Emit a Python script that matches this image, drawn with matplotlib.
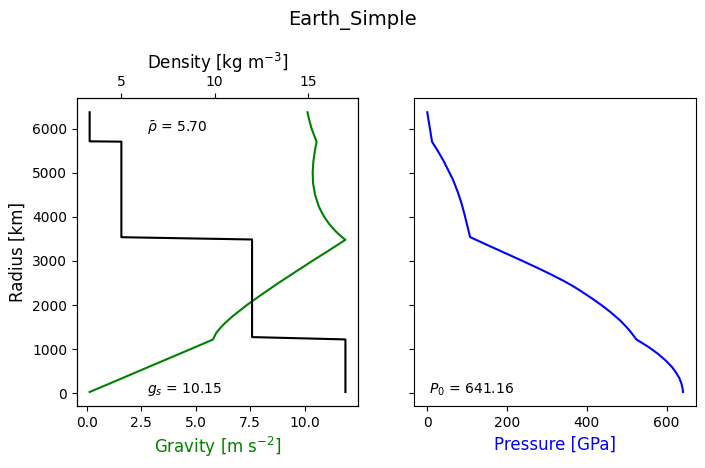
import matplotlib
matplotlib.use('Agg')
import matplotlib.pyplot as plt

# Values
# gravity profile (radius in km, gravity in m s^-2)
grav_r = [30, 300, 600, 900, 1221, 1250, 1300, 1350, 1400, 1500, 1600, 1750, 2000, 2250,
          2500, 2750, 3000, 3250, 3480, 3550, 3650, 3750, 3850, 4000, 4125, 4250, 4500,
          4750, 5000, 5250, 5500, 5701, 6000, 6200, 6371]
gravity = [0.14, 1.43, 2.85, 4.28, 5.80, 5.82, 5.87, 5.92, 5.99, 6.16, 6.36, 6.70, 7.34, 8.05,
           8.79, 9.56, 10.34, 11.14, 11.86, 11.68, 11.46, 11.27, 11.10, 10.89, 10.75, 10.63, 10.47,
           10.38, 10.36, 10.39, 10.46, 10.54, 10.31, 10.20, 10.12]

# density profile (step function)
dens_r = [30, 1222, 1275, 3487, 3539, 5705, 5712, 6371]
density = [17.0, 17.0, 12.0, 12.0, 5.0, 5.0, 3.3, 3.3]

# pressure profile (GPa)
pres_r = [6371, 5701, 5500, 5283, 5050, 4830, 4550, 4302, 4050, 3848, 3700, 3540,
          3350, 3168, 3000, 2827, 2700, 2562, 2450, 2336, 2150, 2000, 1850, 1655,
          1500, 1390, 1222, 1050, 900, 748, 600, 483, 350, 220, 100, 30]
pressure = [0, 12, 26, 40, 53, 65, 77, 86, 93.5, 99, 103, 107.5,
            153.5, 198, 239, 280, 309, 339, 361.5, 382, 413, 436.5, 458, 483,
            499.5, 510, 524, 554.5, 577.5, 597, 613, 622.5, 631.5, 637, 640, 641]

rho_mean = 5.70
g_surf = 10.15
p_center = 641.16

fig, (ax1, ax3) = plt.subplots(1, 2, sharey=True, figsize=(7.05, 4.68), dpi=100)
fig.subplots_adjust(left=0.109, right=0.987, bottom=0.1325, top=0.79, wspace=0.2)

ax1.plot(gravity, grav_r, color='g')
ax1.set_xlabel('Gravity [m s$^{-2}$]', color='g', fontsize=12)
ax1.set_ylabel('Radius [km]', fontsize=12)

ax2 = ax1.twiny()
ax2.plot(density, dens_r, color='k')
ax2.set_xlabel('Density [kg m$^{-3}$]', fontsize=12)

ax1.text(0.25, 0.903, r'$\bar{\rho}$ = %.2f' % rho_mean, transform=ax1.transAxes, va='center')
ax1.text(0.25, 0.052, r'$g_s$ = %.2f' % g_surf, transform=ax1.transAxes, va='center')

ax3.plot(pressure, pres_r, color='b')
ax3.set_xlabel('Pressure [GPa]', color='b', fontsize=12)
ax3.text(0.05, 0.052, r'$P_0$ = %.2f' % p_center, transform=ax3.transAxes, va='center')

fig.suptitle('Earth_Simple', fontsize=14, y=0.978)

fig.savefig('out.png')
